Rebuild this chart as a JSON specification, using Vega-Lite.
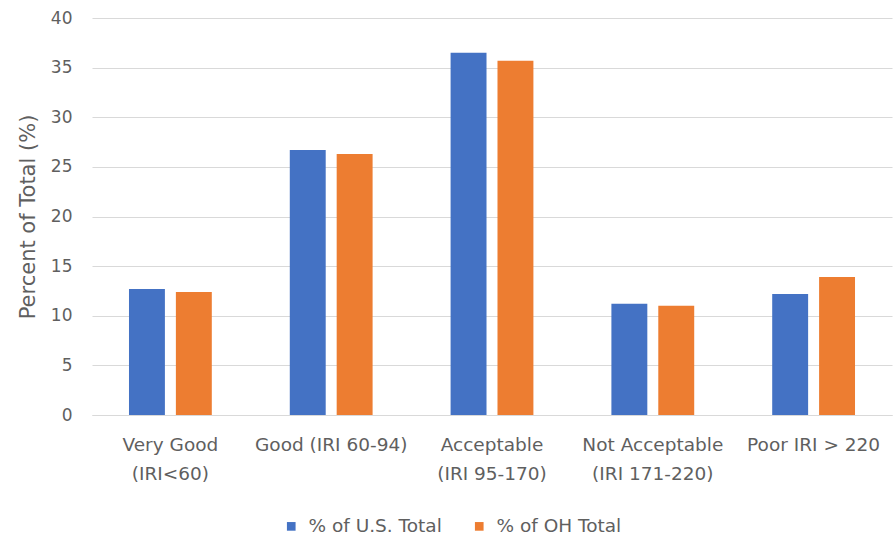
{
  "$schema": "https://vega.github.io/schema/vega-lite/v6.json",
  "width": 800,
  "height": 397,
  "autosize": {"type": "none"},
  "padding": {"left": 92, "top": 18, "right": 1, "bottom": 127},
  "background": "white",
  "config": {
    "view": {"stroke": null},
    "font": "DejaVu Sans",
    "axis": {"labelFont": "DejaVu Sans", "titleFont": "DejaVu Sans", "labelColor": "#5f5f5f", "titleColor": "#5f5f5f"},
    "legend": {"labelFont": "DejaVu Sans"}
  },
  "data": {
    "values": [
      {"category": "Very Good|(IRI<60)", "series": "% of U.S. Total", "value": 12.7},
      {"category": "Very Good|(IRI<60)", "series": "% of OH Total", "value": 12.4},
      {"category": "Good (IRI 60-94)", "series": "% of U.S. Total", "value": 26.7},
      {"category": "Good (IRI 60-94)", "series": "% of OH Total", "value": 26.3},
      {"category": "Acceptable|(IRI 95-170)", "series": "% of U.S. Total", "value": 36.5},
      {"category": "Acceptable|(IRI 95-170)", "series": "% of OH Total", "value": 35.7},
      {"category": "Not Acceptable|(IRI 171-220)", "series": "% of U.S. Total", "value": 11.2},
      {"category": "Not Acceptable|(IRI 171-220)", "series": "% of OH Total", "value": 11.0},
      {"category": "Poor IRI > 220", "series": "% of U.S. Total", "value": 12.2},
      {"category": "Poor IRI > 220", "series": "% of OH Total", "value": 13.9}
    ]
  },
  "mark": {"type": "bar"},
  "encoding": {
    "x": {
      "field": "category",
      "type": "nominal",
      "sort": null,
      "scale": {"paddingInner": 0.485, "paddingOuter": 0.23},
      "axis": {
        "title": null,
        "labelAngle": 0,
        "labelExpr": "split(datum.label, '|')",
        "labelFontSize": 18.5,
        "labelLineHeight": 29,
        "labelPadding": 20,
        "ticks": false,
        "domain": true,
        "domainColor": "#d9d9d9",
        "labelBaseline": "top"
      }
    },
    "xOffset": {
      "field": "series",
      "type": "nominal",
      "sort": ["% of U.S. Total", "% of OH Total"],
      "scale": {"paddingInner": 0.234, "paddingOuter": 0}
    },
    "y": {
      "field": "value",
      "type": "quantitative",
      "scale": {"domain": [0, 40], "nice": false},
      "axis": {
        "title": "Percent of Total (%)",
        "titleFontSize": 21,
        "titleFontWeight": "normal",
        "titlePadding": 12,
        "values": [0, 5, 10, 15, 20, 25, 30, 35, 40],
        "labelFontSize": 17,
        "labelPadding": 20,
        "ticks": false,
        "domain": false,
        "gridColor": "#d9d9d9",
        "gridWidth": 1
      }
    },
    "color": {
      "field": "series",
      "type": "nominal",
      "sort": ["% of U.S. Total", "% of OH Total"],
      "scale": {"domain": ["% of U.S. Total", "% of OH Total"], "range": ["#4472C4", "#ED7D31"]},
      "legend": {
        "title": null,
        "orient": "none",
        "direction": "horizontal",
        "legendX": 190,
        "legendY": 499,
        "symbolType": "square",
        "symbolSize": 75,
        "labelFontSize": 18.5,
        "labelColor": "#5f5f5f",
        "labelOffset": 8,
        "columnPadding": 28
      }
    }
  }
}
